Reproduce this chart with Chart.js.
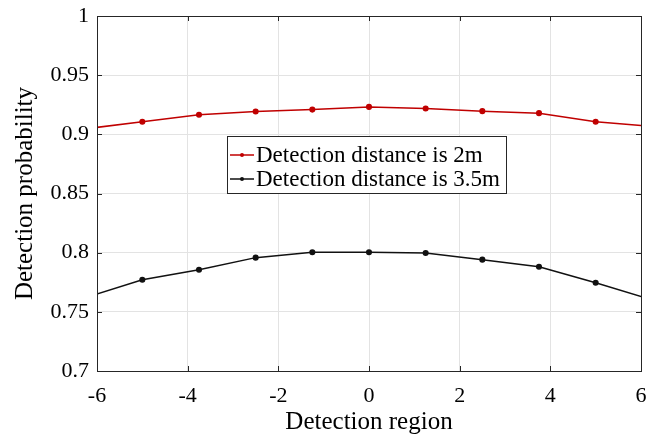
<!DOCTYPE html>
<html>
<head>
<meta charset="utf-8">
<script src="https://cdn.jsdelivr.net/npm/chart.js@4"></script>
<style>
  html, body { margin: 0; padding: 0; background: #fff; }
  #wrap { width: 656px; height: 437px; }
</style>
</head>
<body>
<div id="wrap"><canvas id="chart"></canvas></div>
<script>
// positions along the detection region (end points fall just outside the axes)
const regions = [-6.25, -5, -3.75, -2.5, -1.25, 0, 1.25, 2.5, 3.75, 5, 6.25];
const prob2m = [0.9047, 0.9106, 0.9165, 0.9193, 0.9209, 0.9232, 0.9218, 0.9196, 0.9179, 0.9106, 0.9067];
const prob35m = [0.7620, 0.7771, 0.7856, 0.7958, 0.8003, 0.8003, 0.7997, 0.7941, 0.7881, 0.7746, 0.7600];
const xTickLabels = ['-6', '-4', '-2', '0', '2', '4', '6'];
const yTickLabels = ['0.7', '0.75', '0.8', '0.85', '0.9', '0.95', '1'];

const FONT = '"Liberation Serif", "Times New Roman", serif';
const AXIS_COLOR = '#262626';

function toPoints(xs, ys) {
    return xs.map((x, i) => ({ x: x, y: ys[i] }));
}

// box round the plot with inward ticks, like a MATLAB axes
const boxPlugin = {
    id: 'box',
    afterDatasetsDraw(chart) {
        const { ctx, chartArea: a, scales: { x, y } } = chart;
        const len = 5;
        ctx.save();
        ctx.strokeStyle = AXIS_COLOR;
        ctx.lineWidth = 1;
        ctx.beginPath();
        x.ticks.forEach(t => {
            const px = Math.round(x.getPixelForValue(t.value)) + 0.5;
            ctx.moveTo(px, a.bottom); ctx.lineTo(px, a.bottom - len);
            ctx.moveTo(px, a.top); ctx.lineTo(px, a.top + len);
        });
        y.ticks.forEach(t => {
            const py = Math.round(y.getPixelForValue(t.value)) + 0.5;
            ctx.moveTo(a.left, py); ctx.lineTo(a.left + len, py);
            ctx.moveTo(a.right, py); ctx.lineTo(a.right - len, py);
        });
        ctx.stroke();
        ctx.strokeRect(Math.round(a.left) + 0.5, Math.round(a.top) + 0.5,
            Math.round(a.right - a.left), Math.round(a.bottom - a.top));
        ctx.restore();
    }
};

// legend box drawn inside the plot area
const innerLegend = {
    id: 'innerLegend',
    afterDraw(chart) {
        const ctx = chart.ctx;
        const left = 227, top = 136, w = 279, h = 57;
        ctx.save();
        ctx.fillStyle = '#fff';
        ctx.fillRect(left, top, w, h);
        ctx.strokeStyle = AXIS_COLOR;
        ctx.lineWidth = 1;
        ctx.strokeRect(left + 0.5, top + 0.5, w, h);
        ctx.font = '23px ' + FONT;
        ctx.textBaseline = 'middle';
        chart.data.datasets.forEach((ds, i) => {
            const cy = top + 19 + i * 24;
            ctx.strokeStyle = ds.borderColor;
            ctx.lineWidth = 1.5;
            ctx.beginPath();
            ctx.moveTo(left + 3, cy);
            ctx.lineTo(left + 27, cy);
            ctx.stroke();
            ctx.fillStyle = ds.borderColor;
            ctx.beginPath();
            ctx.arc(left + 15, cy, 2, 0, Math.PI * 2);
            ctx.fill();
            ctx.fillStyle = '#000';
            ctx.fillText(ds.label, left + 29, cy + 1);
        });
        ctx.restore();
    }
};

new Chart(document.getElementById('chart'), {
    type: 'line',
    data: {
        datasets: [{
            label: 'Detection distance is 2m',
            data: toPoints(regions, prob2m),
            borderColor: '#c00000',
            backgroundColor: '#c00000',
            borderWidth: 1.5,
            pointRadius: 2.3,
            pointHoverRadius: 2.3,
            tension: 0
        }, {
            label: 'Detection distance is 3.5m',
            data: toPoints(regions, prob35m),
            borderColor: '#111111',
            backgroundColor: '#111111',
            borderWidth: 1.5,
            pointRadius: 2.3,
            pointHoverRadius: 2.3,
            tension: 0
        }]
    },
    options: {
        responsive: true,
        maintainAspectRatio: false,
        animation: false,
        layout: { padding: { top: 16, right: 15, left: 0, bottom: 0 } },
        plugins: {
            legend: { display: false },
            tooltip: { enabled: false }
        },
        scales: {
            x: {
                type: 'linear',
                min: -6,
                max: 6,
                afterFit(scale) {
                    scale.height = 66;
                    scale.paddingLeft = 0;
                    scale.paddingRight = 0;
                },
                afterBuildTicks(scale) {
                    scale.ticks = xTickLabels.map(v => ({ value: Number(v) }));
                },
                ticks: {
                    color: '#000',
                    font: { family: FONT, size: 22 },
                    padding: 12,
                    maxRotation: 0,
                    callback: (v, i) => xTickLabels[i]
                },
                grid: { color: '#e3e3e3', drawTicks: false },
                border: { display: false },
                title: {
                    display: true,
                    text: 'Detection region',
                    color: '#000',
                    font: { family: FONT, size: 25 },
                    padding: { top: 0, bottom: 0 }
                }
            },
            y: {
                min: 0.7,
                max: 1,
                afterFit(scale) {
                    scale.width = 97;
                    scale.paddingTop = 0;
                    scale.paddingBottom = 0;
                },
                afterBuildTicks(scale) {
                    scale.ticks = yTickLabels.map(v => ({ value: Number(v) }));
                },
                ticks: {
                    color: '#000',
                    font: { family: FONT, size: 22 },
                    padding: 8,
                    callback: (v, i) => yTickLabels[i]
                },
                grid: { color: '#e3e3e3', drawTicks: false },
                border: { display: false },
                title: {
                    display: true,
                    text: 'Detection probability',
                    color: '#000',
                    font: { family: FONT, size: 25 },
                    padding: { top: 10, bottom: 0 }
                }
            }
        }
    },
    plugins: [boxPlugin, innerLegend]
});
</script>
</body>
</html>
